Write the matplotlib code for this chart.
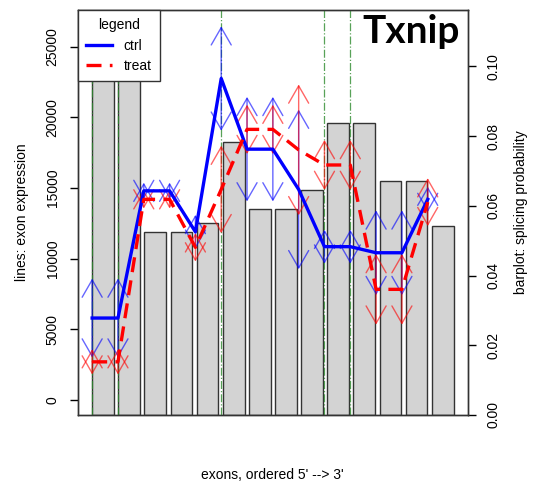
import matplotlib
matplotlib.use("Agg")
import matplotlib.pyplot as plt
from matplotlib.lines import Line2D
import numpy as np

plt.rcParams['font.family'] = ['Liberation Sans', 'DejaVu Sans']

# ---------------- data ----------------
exon_ids = list(range(1, 15))
bar_prob = [0.112, 0.112, 0.0526, 0.0526, 0.0552, 0.0783, 0.0591, 0.0591,
            0.0646, 0.0837, 0.0837, 0.0670, 0.0670, 0.0541]
ctrl = [5800, 5800, 14800, 14800, 11900, 22750, 17750, 17750,
        14900, 10850, 10850, 10420, 10420, 14200]
ctrl_sd = [2800, 2800, 580, 580, 1200, 3700, 3700, 3700,
           5650, 1200, 1200, 3000, 3000, 900]
treat = [2700, 2700, 14200, 14200, 10800, 14900, 19150, 19150,
         17700, 16630, 16630, 7830, 7830, 14000]
treat_sd = [900, 900, 650, 650, 1000, 3100, 1750, 1750,
            4630, 1770, 1770, 2500, 2500, 1700]
highlight = [1, 2, 6, 10, 11]
left_ticks = [0, 5000, 10000, 15000, 20000, 25000]
right_ticks = [0.00, 0.02, 0.04, 0.06, 0.08, 0.10]
title = "Txnip"

# ---------------- figure ----------------
W, H = 538, 484
fig = plt.figure(figsize=(W / 100, H / 100), dpi=100)
L, R, T, B = 77.7, 468.0, 10.0, 415.0
rect = [L / W, (H - B) / H, (R - L) / W, (B - T) / H]

ax_bar = fig.add_axes(rect)
ax_line = fig.add_axes(rect)
ax_bar.set_zorder(1)
ax_line.set_zorder(2)
ax_line.patch.set_visible(False)

edge = '#333333'
# bars (R barplot: width 1, space 0.2)
n = len(bar_prob)
bar_left = [0.2 + 1.2 * i for i in range(n)]
ax_bar.bar(bar_left, bar_prob, width=1.0, align='edge', color='#d3d3d3',
           edgecolor=edge, linewidth=1.0)
ax_bar.set_xlim(0.2 - 0.664, 16.8 + 0.664)
ax_bar.set_ylim(0, 0.1162)
ax_bar.yaxis.tick_right()
ax_bar.yaxis.set_label_position('right')
ax_bar.set_yticks(right_ticks)
ax_bar.set_yticklabels([f"{v:.2f}" for v in right_ticks], rotation=90,
                       va='center', fontsize=10)
ax_bar.tick_params(axis='y', length=6, width=1, pad=7, colors='black')
ax_bar.set_xticks([])
for s in ax_bar.spines.values():
    s.set_color(edge)
    s.set_linewidth(1.0)

# lines
x = np.array(exon_ids)
ax_line.set_xlim(0.44, 15.56)
ax_line.set_ylim(-1061, 27597)
for h in highlight:
    ax_line.axvline(h, color='#2e8b2e', lw=0.9, ls='-.', alpha=0.8, zorder=1)

def draw_arrows(xs, m, sd, color):
    for xi, mi, si in zip(xs, m, sd):
        for tip in (mi + si, mi - si):
            ax_line.annotate('', xy=(xi, tip), xytext=(xi, mi),
                             arrowprops=dict(arrowstyle='->,head_length=1.25,head_width=0.72',
                                             color=color, lw=1.0, alpha=0.6,
                                             shrinkA=0, shrinkB=0),
                             zorder=3)

draw_arrows(x, ctrl, ctrl_sd, '#0000ff')
draw_arrows(x, treat, treat_sd, '#ff0000')

dash = (0, (4.5, 2.5))
ax_line.plot(x, ctrl, color='#0000ff', lw=2.4, zorder=4, solid_joinstyle='round')
ax_line.plot(x, treat, color='#ff0000', lw=2.4, ls=dash, zorder=5)

ax_line.set_yticks(left_ticks)
ax_line.set_yticklabels([str(v) for v in left_ticks], rotation=90,
                        va='center', fontsize=10)
ax_line.tick_params(axis='y', length=6, width=1, pad=7, colors='black')
ax_line.set_xticks([])
for s in ax_line.spines.values():
    s.set_color(edge)
    s.set_linewidth(1.0)

handles = [Line2D([], [], color='#0000ff', lw=2.4),
           Line2D([], [], color='#ff0000', lw=2.4, ls=dash)]
leg = ax_line.legend(handles, ['ctrl', 'treat'], title='legend', loc='upper left',
                     bbox_to_anchor=(0, 1), borderaxespad=0, fancybox=False,
                     framealpha=1, edgecolor=edge, fontsize=10, title_fontsize=10,
                     handlelength=1.9, handletextpad=0.8, borderpad=0.6,
                     labelspacing=0.45)
leg.get_frame().set_linewidth(1.0)
leg.set_zorder(10)

fig.text(22 / W, 1 - 212.5 / H, 'lines: exon expression', rotation=90,
         ha='center', va='center', fontsize=10)
fig.text(521 / W, 1 - 212.5 / H, 'barplot: splicing probability', rotation=90,
         ha='center', va='center', fontsize=10)
fig.text(272.8 / W, 1 - 475 / H, "exons, ordered 5' --> 3'", ha='center',
         va='center', fontsize=10)
fig.text(362 / W, 1 - 43.3 / H, title, ha='left', va='baseline', fontsize=28,
         fontweight='bold', family=['Lato', 'DejaVu Sans'], zorder=20)

fig.savefig('out.png', dpi=100)
